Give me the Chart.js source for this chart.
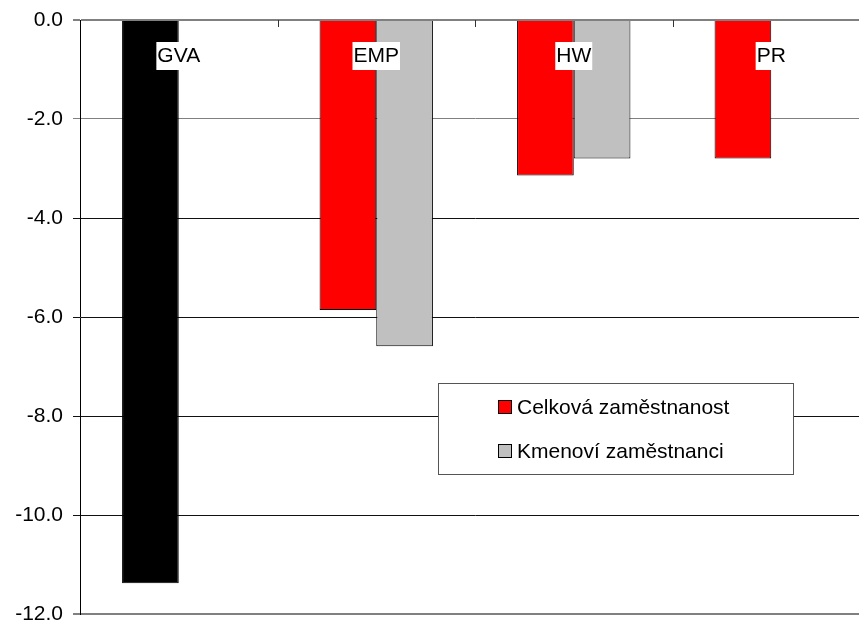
<!DOCTYPE html>
<html>
<head>
<meta charset="utf-8">
<script src="https://cdn.jsdelivr.net/npm/chart.js@4/dist/chart.umd.min.js"></script>
<style>
  html, body { margin: 0; padding: 0; background: #fff; overflow: hidden; }
  #wrap { position: relative; width: 880px; height: 623px; }
</style>
</head>
<body>
<div id="wrap"><canvas id="chart"></canvas></div>
<script>
const categories = ["GVA", "EMP", "HW", "PR"];
const gva = [-11.38, null, null, null];
const celkovaZam = [null, -5.86, -3.14, -2.80];
const kmenoviZam = [null, -6.59, -2.80, null];
const yTicks = [0, -2, -4, -6, -8, -10, -12];

const FONT = "'Liberation Sans', Arial, sans-serif";

// category names sit on white boxes just under the zero line
const categoryLabels = {
  id: "categoryLabels",
  afterDatasetsDraw(chart) {
    const ctx = chart.ctx;
    const x = chart.scales.x;
    const top = chart.chartArea.top;
    const half = (chart.chartArea.right - chart.chartArea.left) / categories.length / 2;
    ctx.save();
    // small ticks between categories
    ctx.strokeStyle = "#333";
    ctx.lineWidth = 1;
    for (let i = 1; i < categories.length; i++) {
      const px = Math.round(x.getPixelForValue(i) - half) + 0.5;
      ctx.beginPath();
      ctx.moveTo(px, top);
      ctx.lineTo(px, top + 7);
      ctx.stroke();
    }
    ctx.font = "21px " + FONT;
    ctx.textAlign = "center";
    ctx.textBaseline = "middle";
    categories.forEach((c, i) => {
      const cx = x.getPixelForValue(i);
      const w = ctx.measureText(c).width;
      ctx.fillStyle = "#fff";
      ctx.fillRect(cx - w / 2 - 1, top + 22, w + 2, 28);
      ctx.fillStyle = "#000";
      ctx.fillText(c, cx, top + 36);
    });
    ctx.restore();
  }
};

// boxed legend inside the plot
const boxLegend = {
  id: "boxLegend",
  afterDatasetsDraw(chart) {
    const ctx = chart.ctx;
    const items = chart.data.datasets.slice(1);
    ctx.save();
    ctx.fillStyle = "#fff";
    ctx.fillRect(438, 383, 355, 91);
    ctx.strokeStyle = "#555";
    ctx.lineWidth = 1;
    ctx.strokeRect(438.5, 383.5, 355, 91);
    ctx.font = "21px " + FONT;
    ctx.textBaseline = "middle";
    items.forEach((ds, i) => {
      const y = 407 + i * 44;
      ctx.fillStyle = ds.backgroundColor;
      ctx.fillRect(498, y - 7, 14, 14);
      ctx.strokeStyle = "#000";
      ctx.strokeRect(498.5, y - 6.5, 13, 13);
      ctx.fillStyle = "#000";
      ctx.fillText(ds.label, 517, y + 1);
    });
    ctx.restore();
  }
};

const ctx = document.getElementById("chart").getContext("2d");
new Chart(ctx, {
  type: "bar",
  data: {
    labels: categories,
    datasets: [
      { label: "GVA", data: gva, stack: "a", backgroundColor: "#000000", borderColor: "#000", borderWidth: 1 },
      { label: "Celková zaměstnanost", data: celkovaZam, stack: "a", backgroundColor: "#ff0000", borderColor: "#000", borderWidth: 1 },
      { label: "Kmenoví zaměstnanci", data: kmenoviZam, stack: "b", backgroundColor: "#c0c0c0", borderColor: "#000", borderWidth: 1 }
    ]
  },
  options: {
    responsive: true,
    maintainAspectRatio: false,
    animation: false,
    categoryPercentage: 0.574,
    barPercentage: 1,
    layout: { padding: { top: 20, right: 10, bottom: 9, left: 0 } },
    scales: {
      x: { display: false, stacked: true },
      y: {
        min: -12,
        max: 0,
        afterFit(scale) {
          scale.width = 80;
          // let the end labels hang over the padding instead of shrinking the plot
          scale.paddingTop = 0;
          scale.paddingBottom = 0;
        },
        afterBuildTicks(scale) { scale.ticks = yTicks.map(v => ({ value: v })); },
        border: { display: true, color: "#000", width: 1 },
        grid: {
          color: c => (c.tick.value === 0 || c.tick.value === -12 || c.tick.value === -2) ? "#808080" : "#111",
          lineWidth: c => (c.tick.value === 0 || c.tick.value === -12) ? 2 : 1,
          tickLength: 7
        },
        ticks: {
          color: "#000",
          padding: 10,
          font: { family: FONT, size: 21 },
          callback: v => v.toFixed(1)
        }
      }
    },
    plugins: {
      legend: { display: false },
      tooltip: { enabled: false }
    }
  },
  plugins: [categoryLabels, boxLegend]
});
</script>
</body>
</html>
